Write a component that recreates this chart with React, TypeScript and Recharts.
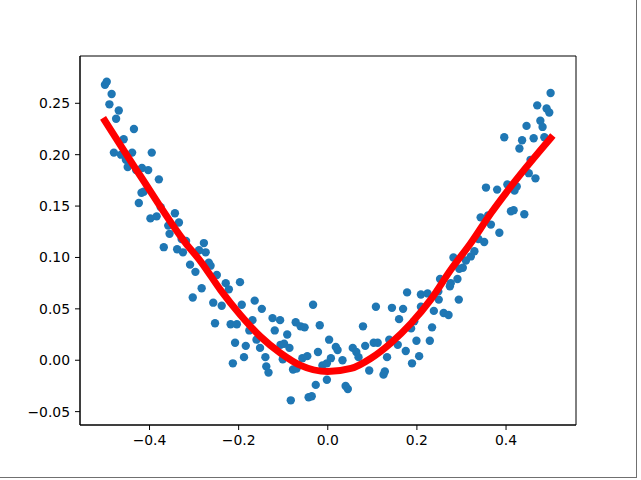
import React from 'react';
import { ComposedChart, Scatter, Line, XAxis, YAxis, ZAxis, ReferenceArea } from 'recharts';

const scatterX = [
  -0.5, -0.496, -0.485, -0.49, -0.469, -0.475, -0.435, -0.458, -0.48, -0.464, -0.439, -0.395,
  -0.453, -0.449, -0.43, -0.417, -0.403, -0.379, -0.413, -0.418, -0.424, -0.398, -0.384, -0.375,
  -0.343, -0.358, -0.334, -0.355, -0.368, -0.338, -0.325, -0.328, -0.318,
  -0.289, -0.278, -0.274, -0.309, -0.297, -0.267, -0.263, -0.249, -0.229, -0.222, -0.197, -0.283,
  -0.303, -0.257, -0.238, -0.193, -0.164, -0.148, -0.169, -0.253, -0.218, -0.204, -0.176, -0.16,
  -0.208, -0.184, -0.152, -0.188, -0.213, -0.14, -0.138, -0.133,
  -0.124, -0.107, -0.119, -0.091, -0.106, -0.098, -0.086, -0.072, -0.061, -0.052, -0.033, -0.018,
  -0.101, -0.078, -0.07, -0.057, -0.046, -0.022, -0.012, -0.002, 0.003, 0.018, 0.022, 0.007,
  0.033, -0.027, -0.002, 0.04, 0.045, -0.083, -0.043, -0.036,
  0.056, 0.064, 0.069, 0.079, 0.084, 0.103, 0.112, 0.108, 0.093, 0.125, 0.128, 0.133,
  0.138, 0.144, 0.157, 0.16, 0.169, 0.175, 0.178, 0.187, 0.189, 0.194, 0.199, 0.205,
  0.209, 0.209, 0.224, 0.229, 0.234, 0.238, 0.248, 0.249, 0.252, 0.26, 0.271,
  0.274, 0.276, 0.282, 0.291, 0.295, 0.294, 0.303, 0.31, 0.321, 0.329, 0.338, 0.351,
  0.343, 0.36, 0.366, 0.385, 0.355, 0.38, 0.403, 0.424, 0.419, 0.411, 0.417, 0.441, 0.396,
  0.43, 0.436, 0.446, 0.455, 0.451, 0.466, 0.462, 0.486, 0.477, 0.482, 0.47, 0.491, 0.497, 0.5,
];

const scatterY = [
  0.268, 0.271, 0.259, 0.249, 0.243, 0.235, 0.225, 0.215, 0.202, 0.2, 0.202, 0.202,
  0.195, 0.188, 0.185, 0.187, 0.185, 0.176, 0.164, 0.163, 0.153, 0.138, 0.14, 0.149,
  0.143, 0.131, 0.134, 0.123, 0.11, 0.108, 0.105, 0.118, 0.116,
  0.107, 0.114, 0.105, 0.093, 0.086, 0.095, 0.092, 0.083, 0.075, 0.069, 0.076, 0.07,
  0.061, 0.056, 0.053, 0.054, 0.058, 0.05, 0.039, 0.036, 0.035, 0.035, 0.029, 0.02,
  0.017, 0.014, 0.012, 0.003, -0.003, 0.003, -0.006, -0.012,
  0.041, 0.039, 0.029, 0.025, 0.015, 0.016, 0.012, 0.037, 0.033, 0.032, 0.054, 0.034,
  0.001, -0.009, -0.008, 0.002, 0.004, 0.008, -0.005, -0.003, 0.02, 0.013, 0.01, 0.002,
  0.0, -0.024, -0.019, -0.025, -0.028, -0.039, -0.036, -0.035,
  0.012, 0.008, 0.003, 0.033, 0.014, 0.017, 0.017, 0.052, -0.01, -0.014, -0.011, 0.003,
  0.02, 0.051, 0.015, 0.04, 0.05, 0.009, 0.066, 0.031, -0.003, 0.038, 0.019, 0.004,
  0.064, 0.052, 0.065, 0.019, 0.032, 0.048, 0.067, 0.059, 0.079, 0.046, 0.044,
  0.072, 0.075, 0.1, 0.079, 0.089, 0.059, 0.09, 0.097, 0.101, 0.106, 0.118, 0.115,
  0.139, 0.141, 0.132, 0.124, 0.168, 0.166, 0.171, 0.169, 0.165, 0.145, 0.146, 0.142, 0.217,
  0.206, 0.214, 0.228, 0.195, 0.182, 0.177, 0.216, 0.217, 0.233, 0.227, 0.248, 0.245, 0.241, 0.26,
];

const lineX = [
  -0.5, -0.42, -0.319, -0.285, -0.24, -0.196, -0.151, -0.106, -0.061, 0.0,
  0.052, 0.097, 0.142, 0.187, 0.231, 0.276, 0.321, 0.366, 0.418, 0.5,
];
const lineY = [
  0.233, 0.179, 0.114, 0.096, 0.068, 0.044, 0.023, 0.007, -0.005, -0.011,
  -0.008, 0.002, 0.017, 0.036, 0.059, 0.088, 0.114, 0.143, 0.173, 0.216,
];

const xTicks = [-0.4, -0.2, 0.0, 0.2, 0.4];
const yTicks = [-0.05, 0.0, 0.05, 0.1, 0.15, 0.2, 0.25];
const xDomain: [number, number] = [-0.556, 0.557];
const yDomain: [number, number] = [-0.063, 0.296];

const scatterData = scatterX.map((x, i) => ({ x, y: scatterY[i] }));
const lineData = lineX.map((x, i) => ({ x, y: lineY[i] }));

const fmt = (d: number) => (v: number) => {
  const s = Math.abs(v).toFixed(d);
  return v < -1e-9 ? '\u2212' + s : s;
};

const tickStyle = { fill: '#000', fontSize: 13.9, fontFamily: 'DejaVu Sans' };

export default function App() {
  return (
    <div style={{ position: 'absolute', left: 0, top: 0, width: 641, height: 480, background: '#fff' }}>
      <ComposedChart width={641} height={480} margin={{ top: 56, right: 65, bottom: 0, left: 0 }}>
        <XAxis
          dataKey="x"
          type="number"
          domain={xDomain}
          ticks={xTicks}
          allowDataOverflow
          tickFormatter={fmt(1)}
          height={55}
          tickSize={5}
          tickMargin={5}
          stroke="#000"
          tick={tickStyle}
        />
        <YAxis
          dataKey="y"
          type="number"
          domain={yDomain}
          ticks={yTicks}
          allowDataOverflow
          tickFormatter={fmt(2)}
          width={80}
          tickSize={5}
          tickMargin={5}
          stroke="#000"
          tick={tickStyle}
        />
        <ZAxis range={[55, 55]} />
        <Scatter data={scatterData} dataKey="y" fill="#1f77b4" isAnimationActive={false} />
        <Line
          data={lineData}
          dataKey="y"
          type="monotone"
          stroke="#ff0000"
          strokeWidth={7}
          strokeLinecap="square"
          dot={false}
          activeDot={false}
          isAnimationActive={false}
          zIndex={700}
        />
        <ReferenceArea
          x1={xDomain[0]}
          x2={xDomain[1]}
          y1={yDomain[0]}
          y2={yDomain[1]}
          fill="none"
          fillOpacity={0}
          stroke="#000"
          strokeWidth={1}
          strokeOpacity={1}
          ifOverflow="visible"
        />
      </ComposedChart>
      <div
        style={{
          position: 'absolute',
          left: 0,
          top: 0,
          width: 636,
          height: 477,
          borderRight: '1px solid #707070',
          borderBottom: '1px solid #707070',
          pointerEvents: 'none',
        }}
      />
    </div>
  );
}
